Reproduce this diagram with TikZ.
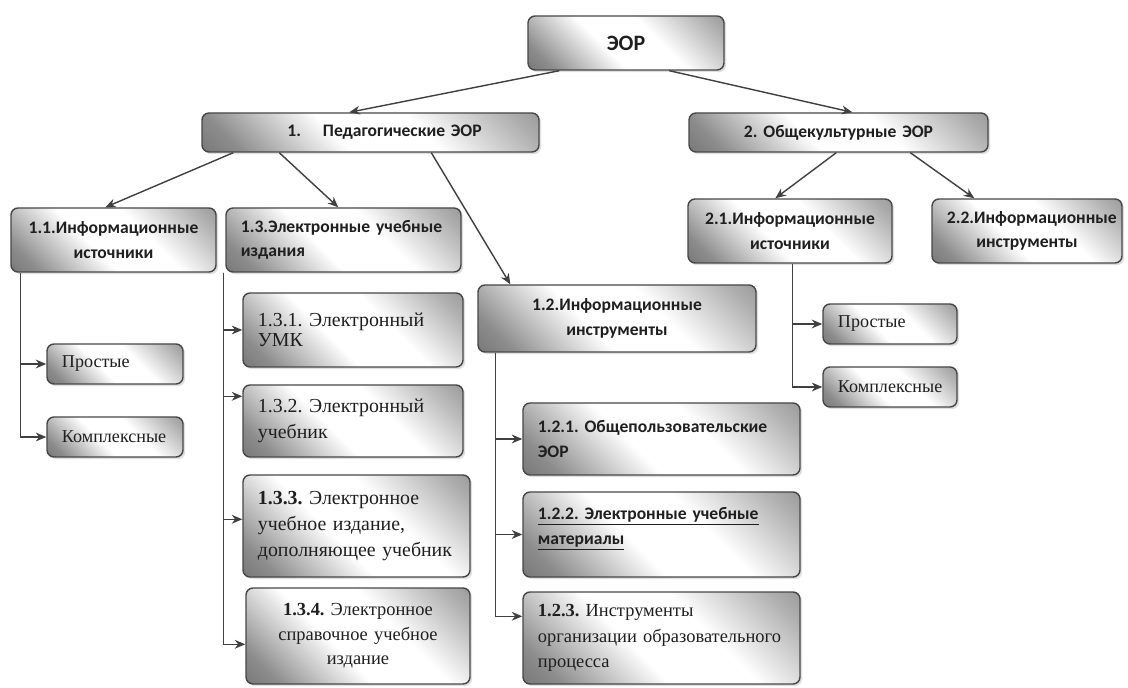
\documentclass[tikz,border=0pt]{standalone}
\usepackage{fontspec}
\newfontfamily\calfont{Carlito}
\newfontfamily\tmsfont{Liberation Serif}
\usetikzlibrary{arrows.meta,calc,shadows}
\pgfdeclarehorizontalshading{bxshade}{100bp}{color(0bp)=(black!68); color(22bp)=(black!45); color(43bp)=(white); color(60bp)=(white); color(80bp)=(black!32); color(100bp)=(black!58)}
\tikzset{
  bx/.style 2 args={rounded corners=4pt, draw=black!72, line width=0.8pt,
    shading=bxshade, shading angle=45,
    drop shadow={opacity=0.25,shadow xshift=1.2pt,shadow yshift=-1.2pt},
    minimum width=#1*0.02cm, minimum height=#2*0.02cm,
    text width=#1*0.02cm-17pt, inner xsep=8.5pt, inner ysep=2pt, text=black!88},
  sb/.style={font=\calfont\bfseries\fontsize{10}{14}\selectfont},
  sr/.style={font=\tmsfont\fontsize{10.3}{14}\selectfont},
  arr/.style={draw=black!75, line width=0.8pt, -{Stealth[length=6pt,width=5pt]}},
}
\begin{document}
\frenchspacing
\begin{tikzpicture}[x=0.02cm,y=-0.02cm]
\fill[white] (0,0) rectangle (1128,688);
\useasboundingbox (0,0) rectangle (1128,688);

% level 0
\node[bx={196}{54}, font=\calfont\bfseries\fontsize{12.5}{15}\selectfont, align=center] (eor) at (626,43) {ЭОР};
% level 1
\node[bx={337}{39}, sb, align=center] (ped) at (370.5,132.5) {\hspace*{16pt}1.\hspace{1.25em}Педагогические ЭОР};
\node[bx={299}{39}, sb, align=center] (obs) at (838.5,132.5) {2. Общекультурные ЭОР};
% level 2
\node[bx={205}{64}, sb, align=center] (b11) at (113.5,240) {1.1.Информационные\\источники};
\node[bx={235}{64}, sb, align=left] (b13) at (343.5,240) {1.3.Электронные учебные\\издания};
\node[bx={278}{67}, sb, align=center] (b12) at (617,318.5) {1.2.Информационные\\инструменты};
\node[bx={204}{64}, sb, align=center] (b21) at (790,231) {2.1.Информационные\\источники};
\node[bx={190}{64}, sb, align=center] (b22) at (1027,231) {2.2.Информационные\\инструменты};
% leaves
\node[bx={136}{40}, sr, align=left, inner xsep=7pt] (p1) at (115,364) {Простые};
\node[bx={136}{40}, sr, align=left, inner xsep=7pt] (k1) at (115,437) {Комплексные};
\node[bx={134}{40}, sr, align=left, inner xsep=7pt] (p2) at (890,324) {Простые};
\node[bx={134}{40}, sr, align=left, inner xsep=7pt] (k2) at (890,387) {Комплексные};

\node[bx={220}{74}, font=\tmsfont\fontsize{11.3}{11.5}\selectfont, align=left] (b131) at (353,330) {\mbox{1.3.1. Электронный}\\УМК};
\node[bx={220}{72}, font=\tmsfont\fontsize{11.3}{15}\selectfont, align=left] (b132) at (353,421) {\mbox{1.3.2. Электронный}\\учебник};
\node[bx={227}{102}, font=\tmsfont\fontsize{11.3}{15}\selectfont, align=left] (b133) at (356.5,526) {\mbox{\textbf{1.3.3.} Электронное}\\\mbox{учебное издание,}\\\mbox{дополняющее учебник}};
\node[bx={224}{96}, font=\tmsfont\fontsize{10.5}{14}\selectfont, align=center] (b134) at (358,636) {\textbf{1.3.4.} Электронное\\справочное учебное\\издание};

\node[bx={277}{72}, sb, align=left] (b121) at (661.5,439) {1.2.1. Общепользовательские\\ЭОР};
\node[bx={277}{85}, sb, align=left] (b122) at (661.5,534.5) {\underline{1.2.2. Электронные учебные}\\\underline{материалы}\\[-4pt]\mbox{}};
\node[bx={277}{92}, font=\tmsfont\fontsize{10.5}{14.5}\selectfont, align=left] (b123) at (661.5,638) {\mbox{\textbf{1.2.3.} Инструменты}\\\mbox{организации образовательного}\\процесса};

% connectors
\draw[arr] ($(eor.south west)+(32,0)$) -- ($(ped.north west)+(148,0)$);
\draw[arr] ($(eor.south west)+(142,0)$) -- ($(obs.north west)+(164,0)$);
\draw[arr] ($(ped.south west)+(32,0)$) -- ($(b11.north west)+(95,0)$);
\draw[arr] ($(ped.south west)+(78,0)$) -- ($(b13.north west)+(113,0)$);
\draw[arr] ($(ped.south west)+(230,0)$) -- ($(b12.north west)+(33,0)$);
\draw[arr] ($(obs.south west)+(148,0)$) -- ($(b21.north west)+(88,0)$);
\draw[arr] ($(obs.south west)+(222,0)$) -- ($(b22.north west)+(43,0)$);

\draw[arr] ($(b11.south west)+(10,0)$) |- (p1.west);
\draw[arr] ($(b11.south west)+(10,0)$) |- (k1.west);

\draw[arr] ($(b13.south west)+(-2,0)$) |- (b131.west);
\draw[arr] ($(b13.south west)+(-2,0)$) |- ($(b132.north west)+(0,12)$);
\draw[arr] ($(b13.south west)+(-2,0)$) |- ($(b133.north west)+(0,45)$);
\draw[arr] ($(b13.south west)+(-2,0)$) |- ($(b134.north west)+(0,57)$);

\draw[arr] ($(b12.south west)+(18,0)$) |- (b121.west);
\draw[arr] ($(b12.south west)+(18,0)$) |- (b122.west);
\draw[arr] ($(b12.south west)+(18,0)$) |- ($(b123.north west)+(0,25)$);

\draw[arr] ($(b21.south west)+(105,0)$) |- (p2.west);
\draw[arr] ($(b21.south west)+(105,0)$) |- (k2.west);
\end{tikzpicture}
\end{document}
